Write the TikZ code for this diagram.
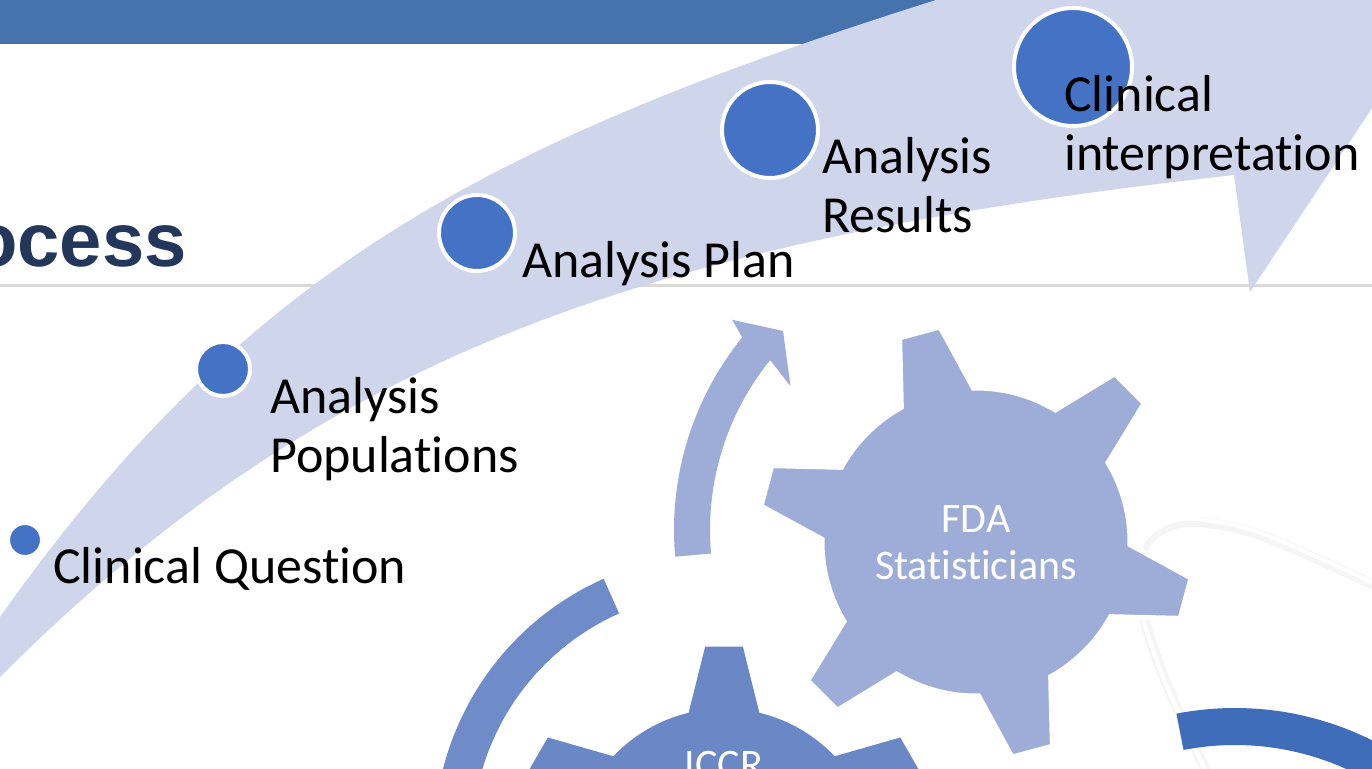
\documentclass[tikz,border=0pt]{standalone}
\usepackage{fontspec}
\setmainfont{Carlito}[Ligatures={NoCommon,NoContextual}]
\newfontfamily\titlefont{Liberation Sans}
\usetikzlibrary{calc}
\definecolor{barcol}{HTML}{4672AE}
\definecolor{bandcol}{HTML}{CFD5EA}
\definecolor{dotcol}{HTML}{4472C4}
\definecolor{titlecol}{HTML}{22375A}
\definecolor{rulecol}{HTML}{D9D9D9}
\definecolor{fdacol}{HTML}{9DADD7}
\definecolor{iccrcol}{HTML}{6A88C6}
\definecolor{iccrarccol}{HTML}{6F8CC9}
\definecolor{brarccol}{HTML}{3F6DBA}
\begin{document}
\begin{tikzpicture}[x=1pt,y=-1pt,
  dot/.style={circle,fill=dotcol,draw=white,line width=4pt,inner sep=0pt},
  lbl/.style={anchor=base west,inner sep=0pt,align=left,font=\fontsize{52}{59}\selectfont},
  geartxt/.style={text=white,inner sep=0pt,align=center,font=\fontsize{42}{47}\selectfont}]
\useasboundingbox (0,0) rectangle (1372,768);
\clip (0,0) rectangle (1372,768);
\fill[white] (0,0) rectangle (1372,768);
% header bar and rule
\fill[barcol] (0,0) rectangle (1000,44);
\draw[rulecol,line width=3pt] (0,285) -- (1372,285);
\node[anchor=base east,inner sep=0pt,text=titlecol,font=\titlefont\bfseries\fontsize{76}{80}\selectfont] (title) at (187,266) {Process};
% faint swoosh
\draw[black!4,line width=10pt] plot[smooth] coordinates {(1215,790) (1165,680) (1140,600) (1145,545) (1185,522) (1260,535) (1380,588)};
\draw[white,line width=4pt,shift={(-2,-3)}] plot[smooth] coordinates {(1215,790) (1165,680) (1140,600) (1145,545) (1185,522) (1260,535) (1380,588)};
% big curved arrow
\fill[bandcol] (0,617) .. controls (244,273) and (480,144) .. (936,0) -- (980,-20) -- (1457,-20) -- (1250,292) -- (1234,175) .. controls (638,241) and (318,359) .. (0,677) -- cycle;
% milestones
\node[dot,minimum size=34pt] (dq) at (25,540) {};
\node[dot,minimum size=54pt] (dpop) at (223,369) {};
\node[dot,minimum size=76pt] (dplan) at (477,233) {};
\node[dot,minimum size=96pt] (dres) at (770,130) {};
\node[dot,minimum size=118pt] (dint) at (1073,67) {};
\node[lbl] (lq) at (53,583) {Clinical Question};
\node[lbl] (lpop) at (270,472) {Analysis\\Populations};
\node[lbl] (lplan) at (522,277) {Analysis Plan};
\node[lbl] (lres) at (822,232) {Analysis\\Results};
\node[lbl] (lint) at (1064,170) {Clinical\\interpretation};
% circular arrows
\coordinate (fdaarc) at (980,530);
\fill[fdacol] ($(fdaarc)+(175:306)$) arc[start angle=175,end angle=219,radius=306]
  -- ($(fdaarc)+(220.3:325)$) -- ($(fdaarc)+(225.3:280)$) -- ($(fdaarc)+(217.2:238)$)
  -- ($(fdaarc)+(219:270)$) arc[start angle=219,end angle=175,radius=270] -- cycle;
\coordinate (iccrarc) at (720,840);
\fill[iccrarccol] ($(iccrarc)+(246:286)$) arc[start angle=246,end angle=160,radius=286]
  -- ($(iccrarc)+(160:248)$) arc[start angle=160,end angle=246,radius=248] -- cycle;
\coordinate (brarc) at (1235,1015);
\fill[brarccol] ($(brarc)+(259:307)$) arc[start angle=259,end angle=310,radius=307]
  -- ($(brarc)+(310:270)$) arc[start angle=310,end angle=259,radius=270] -- cycle;
% gears
\coordinate (fdac) at (976,542);
\filldraw[fill=fdacol,draw=white,line width=5pt] ($(fdac)+(1:154)$)
  \foreach \a in {15,75,...,315} { -- ($(fdac)+(\a-14:154)$) -- ($(fdac)+(\a-5.5:218)$)
  -- ($(fdac)+(\a+5.5:218)$) -- ($(fdac)+(\a+14:154)$) arc[start angle=\a+14,end angle=\a+46,radius=154] } -- cycle;
\coordinate (iccrc) at (724,861);
\filldraw[fill=iccrcol,draw=white,line width=5pt] ($(iccrc)+(16:155)$)
  \foreach \a in {30,90,...,330} { -- ($(iccrc)+(\a-14:155)$) -- ($(iccrc)+(\a-5.5:218)$)
  -- ($(iccrc)+(\a+5.5:218)$) -- ($(iccrc)+(\a+14:155)$) arc[start angle=\a+14,end angle=\a+46,radius=155] } -- cycle;
\node[geartxt] (fda) at (976,543) {FDA\\Statisticians};
\node[geartxt,anchor=base] (iccr) at (724,778) {ICCR};
\end{tikzpicture}
\end{document}
